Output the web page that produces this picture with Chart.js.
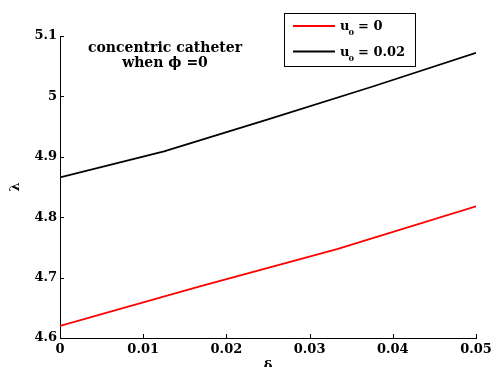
<!DOCTYPE html>
<html>
<head>
<meta charset="utf-8">
<script src="https://cdn.jsdelivr.net/npm/chart.js@4.4.0/dist/chart.umd.min.js"></script>
<style>
html,body{margin:0;padding:0;background:#fff;overflow:hidden;}
canvas{display:block;}
</style>
</head>
<body>
<canvas id="c" width="496" height="367"></canvas>
<script>
// ---- data ----
const deltaRed = [0, 0.0167, 0.0333, 0.05];
const lambdaRed = [4.620, 4.685, 4.747, 4.818];           // u0 = 0
const deltaBlack = [0, 0.0125, 0.025, 0.0375, 0.05];
const lambdaBlack = [4.866, 4.909, 4.962, 5.016, 5.072];  // u0 = 0.02
const seriesLabels = ['u0 = 0', 'u0 = 0.02'];
const legendValues = ['0', '0.02'];
const xTicks = [0, 0.01, 0.02, 0.03, 0.04, 0.05];
const yTicks = [4.6, 4.7, 4.8, 4.9, 5.0, 5.1];
const annotationLines = ['concentric catheter', 'when \u03D5 =0'];
const xTitle = '\u03B4';
const yTitle = '\u03BB';

const FONT = 'DejaVu Serif';

const toPts = (xs, ys) => xs.map((x, i) => ({x: x, y: ys[i]}));

const inwardTicks = {
  id: 'inwardTicks',
  afterDraw(chart) {
    const {ctx, scales: {x, y}, chartArea: a} = chart;
    ctx.save();
    ctx.strokeStyle = '#000';
    ctx.lineWidth = 1;
    ctx.beginPath();
    xTicks.forEach(v => {
      const px = Math.round(x.getPixelForValue(v)) + 0.5;
      ctx.moveTo(px, a.bottom); ctx.lineTo(px, a.bottom - 4);
    });
    yTicks.forEach(v => {
      const py = Math.round(y.getPixelForValue(v)) + 0.5;
      ctx.moveTo(a.left, py); ctx.lineTo(a.left + 4, py);
    });
    ctx.stroke();
    ctx.restore();
  }
};

const annotation = {
  id: 'annotation',
  afterDraw(chart) {
    const {ctx} = chart;
    ctx.save();
    ctx.fillStyle = '#000';
    ctx.font = 'bold 14px "' + FONT + '"';
    ctx.textAlign = 'center';
    ctx.textBaseline = 'alphabetic';
    ctx.fillText(annotationLines[0], 165, 52);
    ctx.fillText(annotationLines[1], 165, 67);
    ctx.restore();
  }
};

const customLegend = {
  id: 'customLegend',
  afterDraw(chart) {
    const {ctx} = chart;
    ctx.save();
    ctx.fillStyle = '#fff';
    ctx.fillRect(284, 13, 132, 54);
    ctx.strokeStyle = '#000';
    ctx.lineWidth = 1;
    ctx.strokeRect(284.5, 13.5, 131, 53);
    const rows = [26, 51.5];
    chart.data.datasets.forEach((ds, i) => {
      const ly = rows[i];
      ctx.strokeStyle = ds.borderColor;
      ctx.lineWidth = 1.8;
      ctx.beginPath();
      ctx.moveTo(293, ly); ctx.lineTo(335, ly);
      ctx.stroke();
      ctx.fillStyle = '#000';
      ctx.textAlign = 'left';
      ctx.textBaseline = 'alphabetic';
      let tx = 340;
      const base = ly + 4;
      ctx.font = 'bold 13px "' + FONT + '"';
      ctx.fillText('u', tx, base);
      tx += ctx.measureText('u').width - 1;
      ctx.font = 'bold 8px "' + FONT + '"';
      ctx.fillText('0', tx, base + 5);
      tx += ctx.measureText('0').width + 4;
      ctx.font = 'bold 13px "' + FONT + '"';
      ctx.fillText('= ' + legendValues[i], tx, base);
    });
    ctx.restore();
  }
};

const tickFont = {family: FONT, weight: 'bold', size: 13};

new Chart(document.getElementById('c'), {
  type: 'line',
  data: {
    datasets: [
      {label: seriesLabels[0], data: toPts(deltaRed, lambdaRed), borderColor: '#ff0000',
       borderWidth: 1.8, pointRadius: 0, tension: 0, fill: false},
      {label: seriesLabels[1], data: toPts(deltaBlack, lambdaBlack), borderColor: '#000000',
       borderWidth: 1.8, pointRadius: 0, tension: 0, fill: false}
    ]
  },
  options: {
    responsive: false,
    animation: false,
    layout: {padding: {top: 36, right: 20, left: 0, bottom: 0}},
    plugins: {legend: {display: false}, tooltip: {enabled: false}},
    scales: {
      x: {
        type: 'linear', min: 0, max: 0.05,
        afterFit: s => { s.height = 29; },
        afterBuildTicks: s => { s.ticks = xTicks.map(v => ({value: v})); },
        grid: {drawOnChartArea: false, drawTicks: false, color: '#000'},
        border: {display: true, color: '#000', width: 1},
        ticks: {font: tickFont, color: '#000', padding: 4, maxRotation: 0, autoSkip: false,
                callback: v => String(+v.toFixed(2))},
        title: {display: true, text: xTitle, font: tickFont, color: '#000', padding: {top: 0, bottom: -7}}
      },
      y: {
        type: 'linear', min: 4.6, max: 5.1,
        afterFit: s => { s.width = 60; },
        afterBuildTicks: s => { s.ticks = yTicks.map(v => ({value: v})); },
        grid: {drawOnChartArea: false, drawTicks: false, color: '#000'},
        border: {display: true, color: '#000', width: 1},
        ticks: {font: tickFont, color: '#000', padding: 3, autoSkip: false,
                callback: v => String(+v.toFixed(1))},
        title: {display: true, text: yTitle, font: tickFont, color: '#000', padding: {top: 8, bottom: 0}}
      }
    }
  },
  plugins: [inwardTicks, annotation, customLegend]
});
</script>
</body>
</html>
